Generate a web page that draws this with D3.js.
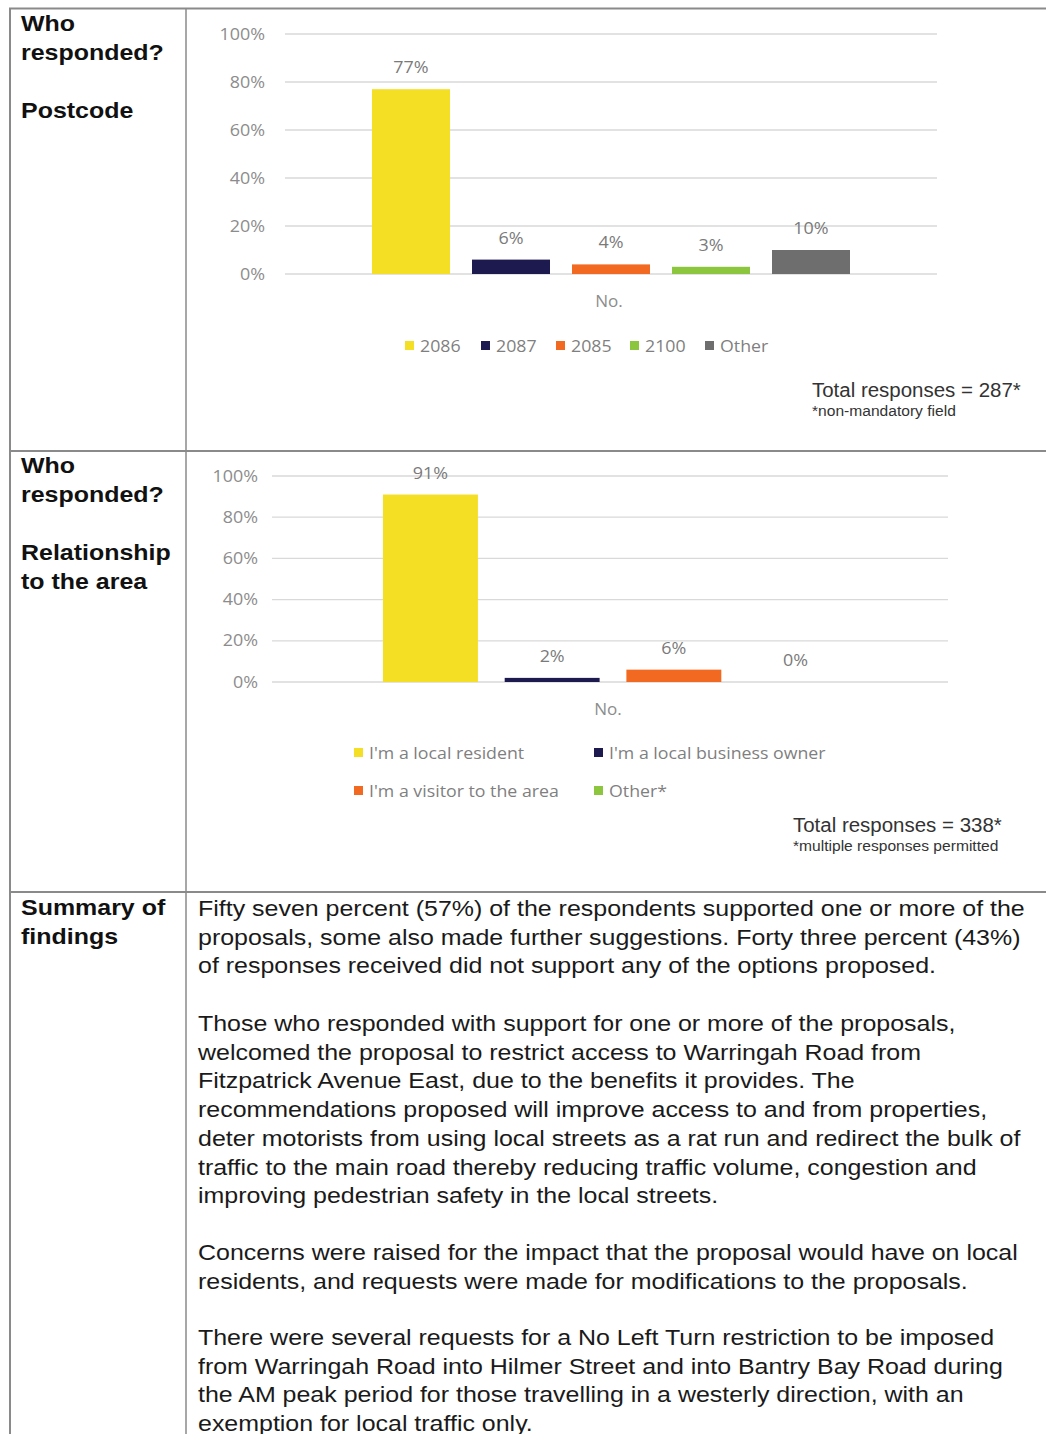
<!DOCTYPE html>
<html>
<head>
<meta charset="utf-8">
<script src="https://cdn.jsdelivr.net/npm/d3@7"></script>
<style>
  html, body { margin: 0; padding: 0; background: #fff; }
  svg { display: block; }
</style>
</head>
<body>
<svg id="page" width="1046" height="1434"></svg>
<script>
// ---------- DATA ----------
const postcodeCategories = ["2086", "2087", "2085", "2100", "Other"];
const postcodeValues = [77, 6, 4, 3, 10];
const postcodeColors = ["#f5df24", "#1d1a50", "#f26a21", "#8cc63f", "#6e6e6e"];

const relationCategories = ["I'm a local resident", "I'm a local business owner", "I'm a visitor to the area", "Other*"];
const relationValues = [91, 2, 6, 0];
const relationColors = ["#f5df24", "#1d1a50", "#f26a21", "#8cc63f"];

const yTicks = [0, 20, 40, 60, 80, 100];
const axisCategory = "No.";

const rowLabels = [
  ["Who", "responded?", "", "Postcode"],
  ["Who", "responded?", "", "Relationship", "to the area"],
  ["Summary of", "findings"]
];
const totalNotes = [
  ["Total responses = 287*", "*non-mandatory field"],
  ["Total responses = 338*", "*multiple responses permitted"]
];
const summaryParagraphs = [
  ["Fifty seven percent (57%) of the respondents supported one or more of the",
   "proposals, some also made further suggestions. Forty three percent (43%)",
   "of responses received did not support any of the options proposed."],
  ["Those who responded with support for one or more of the proposals,",
   "welcomed the proposal to restrict access to Warringah Road from",
   "Fitzpatrick Avenue East, due to the benefits it provides. The",
   "recommendations proposed will improve access to and from properties,",
   "deter motorists from using local streets as a rat run and redirect the bulk of",
   "traffic to the main road thereby reducing traffic volume, congestion and",
   "improving pedestrian safety in the local streets."],
  ["Concerns were raised for the impact that the proposal would have on local",
   "residents, and requests were made for modifications to the proposals."],
  ["There were several requests for a No Left Turn restriction to be imposed",
   "from Warringah Road into Hilmer Street and into Bantry Bay Road during",
   "the AM peak period for those travelling in a westerly direction, with an",
   "exemption for local traffic only."]
];

// ---------- LAYOUT ----------
const svg = d3.select("#page");
const chartFont = "'Open Sans', 'Noto Sans', sans-serif";
const docFont = "'Liberation Sans', Arial, sans-serif";
const tickColor = "#8c8c8c";

// place a text with horizontal stretch around its anchor point
function stext(parent, x, y, sx, str) {
  return parent.append("text")
    .attr("transform", `translate(${x},${y}) scale(${sx},1)`)
    .text(str);
}

// table lines
const border = "#8a8a8a";
const tbl = svg.append("g");
tbl.append("line").attr("x1", 9).attr("x2", 1046).attr("y1", 8.5).attr("y2", 8.5).attr("stroke", border).attr("stroke-width", 2);
tbl.append("line").attr("x1", 10).attr("x2", 10).attr("y1", 8).attr("y2", 1434).attr("stroke", border).attr("stroke-width", 2);
tbl.append("line").attr("x1", 186).attr("x2", 186).attr("y1", 8).attr("y2", 1434).attr("stroke", border).attr("stroke-width", 1.5);
[451, 892].forEach(y => tbl.append("line").attr("x1", 9).attr("x2", 1046).attr("y1", y).attr("y2", y).attr("stroke", border).attr("stroke-width", 2));

// row labels
const rowLabelTops = [31, 473, 915];
rowLabels.forEach((lines, i) => {
  lines.forEach((l, j) => {
    if (!l) return;
    stext(svg, 21, rowLabelTops[i] + j * 29, 1.11, l)
      .attr("font-family", docFont).attr("font-weight", "bold").attr("font-size", 22.5).attr("fill", "#111");
  });
});

function drawChart(cfg) {
  const g = svg.append("g");
  const y = d3.scaleLinear().domain([0, 100]).range([cfg.y0, cfg.y100]);
  const x = d3.scaleBand().domain(cfg.categories).range(cfg.barRange).paddingInner(0.22).paddingOuter(0.11);

  // gridlines
  g.selectAll(".grid").data(yTicks).join("line")
    .attr("x1", cfg.gridX[0]).attr("x2", cfg.gridX[1])
    .attr("y1", d => y(d)).attr("y2", d => y(d))
    .attr("stroke", "#d9d9d9").attr("stroke-width", 1.3);

  // y axis labels via d3 axis
  const ax = d3.axisLeft(y).tickValues(yTicks).tickFormat(d => d + "%").tickSize(0).tickPadding(0);
  const axG = g.append("g").attr("transform", `translate(${cfg.tickRight},0)`).call(ax);
  axG.select(".domain").remove();
  axG.selectAll("text").attr("font-family", chartFont).attr("font-size", 16).attr("fill", tickColor)
    .attr("transform", "scale(1.12,1)");

  // bars
  g.selectAll(".bar").data(cfg.values).join("rect")
    .attr("x", (d, i) => x(cfg.categories[i]))
    .attr("width", x.bandwidth())
    .attr("y", d => y(d))
    .attr("height", d => cfg.y0 - y(d))
    .attr("fill", (d, i) => cfg.colors[i]);

  // value labels
  cfg.values.forEach((d, i) => {
    stext(g, x(cfg.categories[i]) + x.bandwidth() / 2, y(d) - 16, 1.12, d + "%")
      .attr("text-anchor", "middle")
      .attr("font-family", chartFont).attr("font-size", 16).attr("fill", "#7a7a7a");
  });

  // category label
  stext(g, (cfg.gridX[0] + cfg.gridX[1]) / 2 - 2, cfg.y0 + 33, 1.1, axisCategory)
    .attr("text-anchor", "middle").attr("font-family", chartFont).attr("font-size", 15.5).attr("fill", tickColor);

  // legend
  cfg.legend.forEach((pos, i) => {
    g.append("rect").attr("x", pos[0]).attr("y", pos[1] - 5).attr("width", 9).attr("height", 9).attr("fill", cfg.colors[i]);
    stext(g, pos[0] + 15, pos[1] + 5.5, 1.11, cfg.categories[i])
      .attr("font-family", chartFont).attr("font-size", 16).attr("fill", "#7f7f7f");
  });

  // notes
  const noteLeft = cfg.noteRight - 209;
  stext(g, noteLeft, cfg.noteY, 1.05, cfg.notes[0])
    .attr("font-family", docFont).attr("font-size", 19.5).attr("fill", "#333");
  stext(g, noteLeft, cfg.noteY + 19, 1.13, cfg.notes[1])
    .attr("font-family", docFont).attr("font-size", 13.8).attr("fill", "#333");
}

drawChart({
  categories: postcodeCategories, values: postcodeValues, colors: postcodeColors,
  y0: 274, y100: 34, gridX: [285, 937], barRange: [361, 861], tickRight: 265,
  legend: [[405, 346], [481, 346], [556, 346], [630, 346], [705, 346]],
  notes: totalNotes[0], noteRight: 1021, noteY: 397
});

drawChart({
  categories: relationCategories, values: relationValues, colors: relationColors,
  y0: 682, y100: 476, gridX: [272, 948], barRange: [369.6, 856.4], tickRight: 258,
  legend: [[354, 753], [594, 753], [354, 791], [594, 791]],
  notes: totalNotes[1], noteRight: 1002, noteY: 832
});

// summary text
const summaryTop = [916, 1031, 1260, 1345];
const lineH = 28.7;
summaryParagraphs.forEach((para, i) => {
  para.forEach((line, j) => {
    stext(svg, 198, summaryTop[i] + j * lineH, 1.135, line)
      .attr("font-family", docFont).attr("font-size", 22).attr("fill", "#1a1a1a");
  });
});
</script>
</body>
</html>
